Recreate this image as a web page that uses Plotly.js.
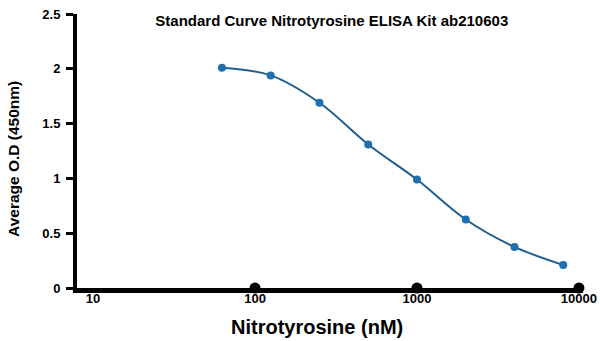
<!DOCTYPE html>
<html><head><meta charset="utf-8">
<script src="https://cdn.plot.ly/plotly-3.0.1.min.js"></script>
<style>html,body{margin:0;padding:0;background:#fff}#chart{width:600px;height:341px}</style>
</head><body><div id="chart"></div>
<script>
const concentration = [62.5, 125, 250, 500, 1000, 2000, 4000, 8000];
const averageOD = [2.01, 1.94, 1.69, 1.31, 0.99, 0.625, 0.375, 0.21];
const axisDotX = [100, 1000, 10000];
const axisDotY = [0, 0, 0];
const xTickVals = [10, 100, 1000, 10000];
const xTickText = ['10', '100', '1000', '10000'];
const yTickVals = [0, 0.5, 1, 1.5, 2, 2.5];

const font = 'Liberation Sans, Arial, sans-serif';
const data = [
  {x: concentration, y: averageOD, type: 'scatter', mode: 'lines+markers',
   line: {color: '#1f5f8f', width: 2, shape: 'spline', smoothing: 1},
   marker: {color: '#1f6fae', size: 8}, cliponaxis: false, hoverinfo: 'x+y'},
  {x: axisDotX, y: axisDotY, type: 'scatter', mode: 'markers',
   marker: {color: '#000', size: 11}, cliponaxis: false, hoverinfo: 'skip'}
];
const layout = {
  width: 600, height: 341, showlegend: false,
  paper_bgcolor: '#fff', plot_bgcolor: '#fff',
  margin: {l: 77, r: 17, t: 14, b: 53},
  title: {text: '<b>Standard Curve Nitrotyrosine ELISA Kit ab210603</b>',
    font: {family: font, size: 15, color: '#000'}, x: 0.553, xanchor: 'center', y: 0.94, yanchor: 'middle'},
  xaxis: {type: 'log', range: [0.901, 4.025], tickvals: xTickVals, ticktext: xTickText,
    showgrid: false, zeroline: false, showline: true, linecolor: '#000', linewidth: 5,
    ticks: '', ticklabelstandoff: -6,
    tickfont: {family: font, size: 13, color: '#000', weight: 'bold'}},
  yaxis: {range: [0, 2.5], tickvals: yTickVals, showgrid: false, zeroline: false,
    showline: true, linecolor: '#000', linewidth: 4,
    ticks: 'outside', ticklen: 7, tickwidth: 3, tickcolor: '#000', ticklabelstandoff: 3,
    tickfont: {family: font, size: 13, color: '#000', weight: 'bold'}},
  annotations: [
    {text: '<b>Nitrotyrosine (nM)</b>', xref: 'paper', yref: 'paper', x: 0.474, y: 0,
     xanchor: 'center', yanchor: 'middle', yshift: -39, showarrow: false,
     font: {family: font, size: 20, color: '#000'}},
    {text: '<b>Average O.D (450nm)</b>', xref: 'paper', yref: 'paper', x: 0, y: 0.471,
     xanchor: 'center', yanchor: 'middle', xshift: -63, textangle: -90, showarrow: false,
     font: {family: font, size: 15.5, color: '#000'}}
  ]
};
Plotly.newPlot('chart', data, layout, {displayModeBar: false, staticPlot: true});
</script></body></html>
